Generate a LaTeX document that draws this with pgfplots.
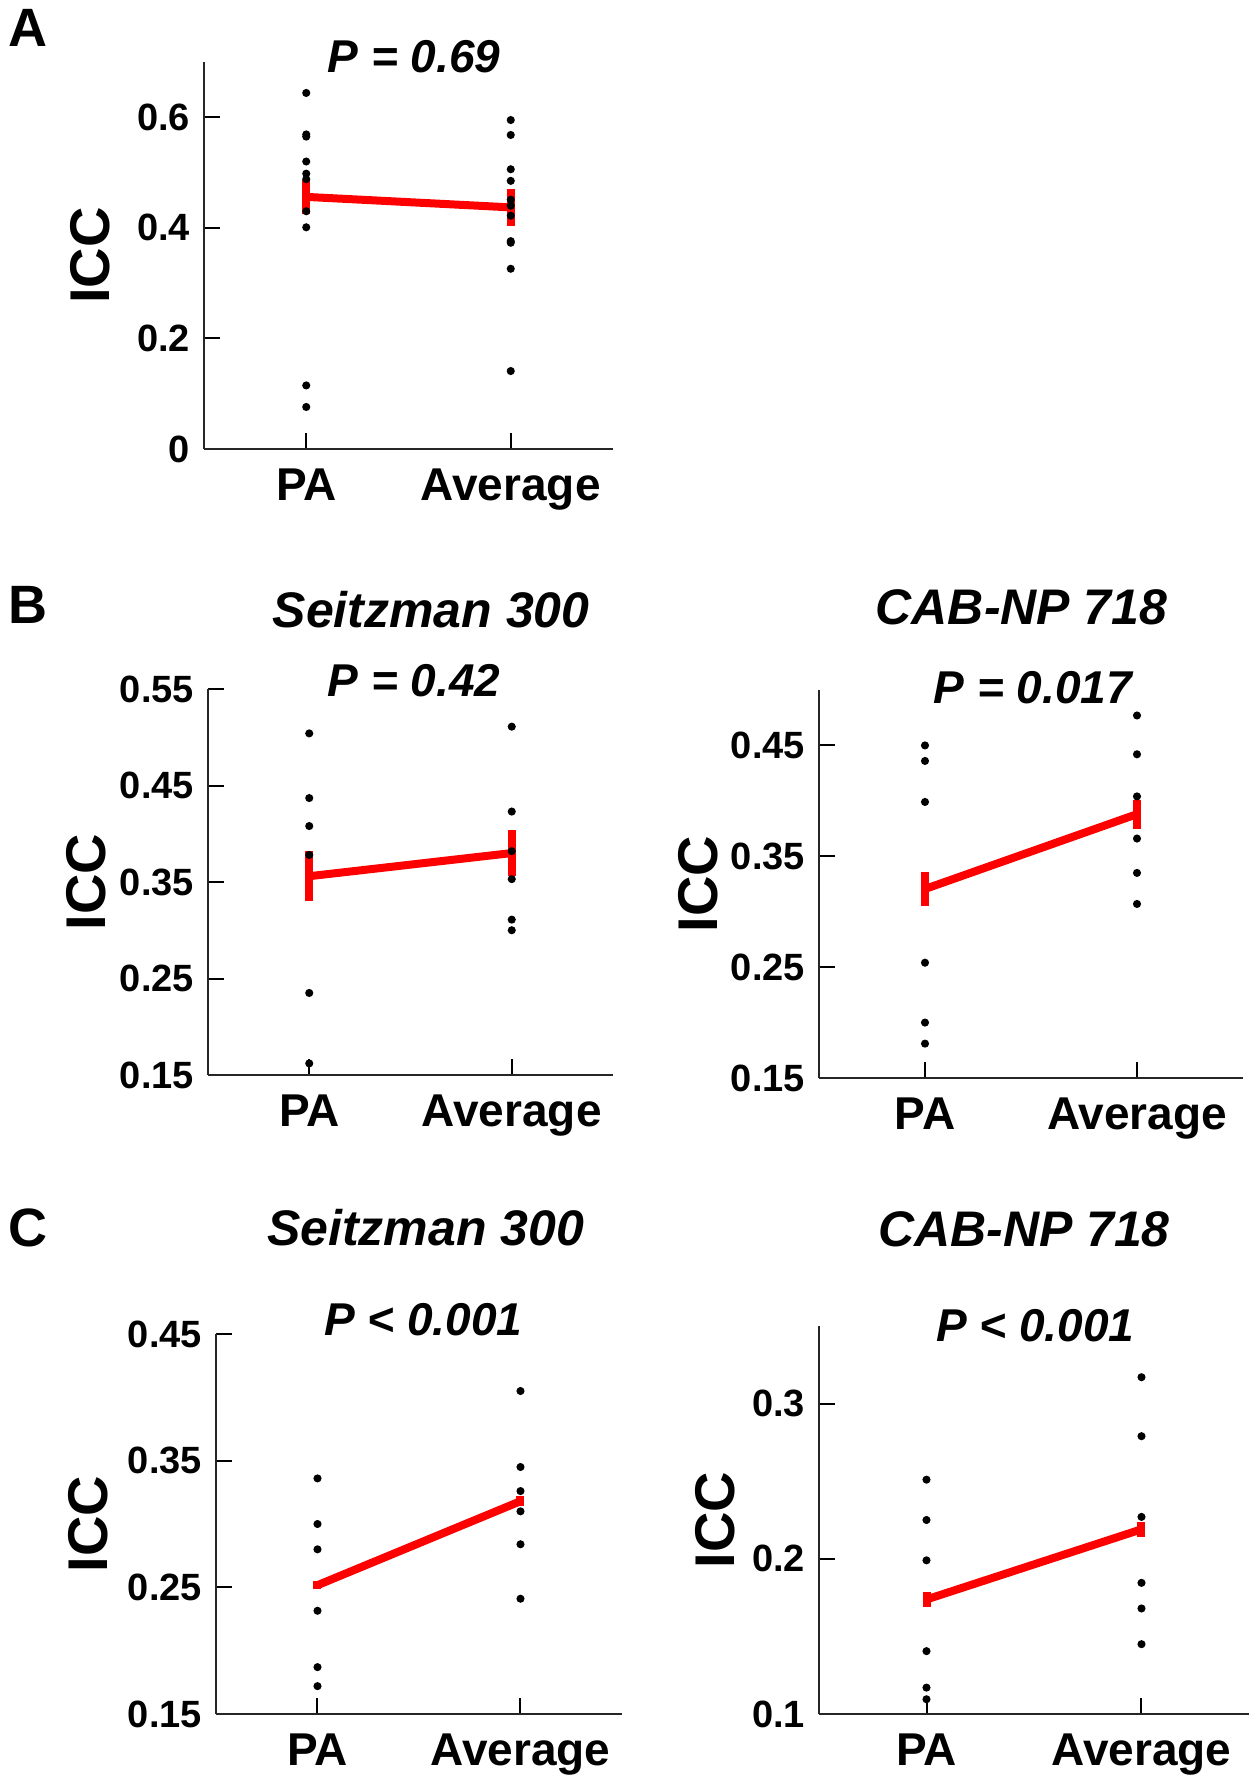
\documentclass[border=0pt]{standalone}
\usepackage{pgfplots}
\pgfplotsset{compat=1.18}
\usepackage{fontspec}
\setmainfont{Liberation Sans}
\pgfplotsset{
  myax/.style={
    scale only axis, anchor=south west, clip=false,
    axis lines=left, axis line style={-, line width=0.6pt, black!85},
    tick style={black, line width=0.5pt}, tick align=inside, major tick length=4pt,
    xmin=0.5, xmax=2.5, xtick={1,2}, xticklabels={PA,Average},
    x tick label style={font=\fontsize{11.5}{11.5}\selectfont\bfseries, yshift=-1.5pt},
    y tick label style={font=\fontsize{9.5}{9.5}\selectfont\bfseries, /pgf/number format/fixed, /pgf/number format/precision=2},
    /pgf/number format/assume math mode=true,
    ylabel={ICC}, ylabel style={font=\fontsize{14}{14}\selectfont\bfseries, anchor=center},
  },
  dots/.style={only marks, mark=*, mark size=0.8pt, black},
  meanline/.style={red, line width=2pt, mark=none,
    error bars/.cd, y dir=both, y explicit, error mark=none,
    error bar style={red, line width=2pt}},
}
\newcommand{\ttl}{\fontsize{12.5}{12.5}\selectfont\bfseries\itshape}
\newcommand{\pv}{\fontsize{11.5}{11.5}\selectfont\bfseries\itshape}
\begin{document}
\begin{tikzpicture}
\path[use as bounding box] (0,0) rectangle (315pt,445pt);
% Panel A
\begin{axis}[myax, at={(51pt,332.75pt)}, width=102.25pt, height=96.75pt,
  ymin=0, ymax=0.7, ytick={0,0.2,0.4,0.6},
  ylabel style={at={(axis description cs:-0.277,0.5)}}]
\addplot[dots] coordinates {(1,0.644)(1,0.569)(1,0.565)(1,0.520)(1,0.498)(1,0.488)(1,0.430)(1,0.401)(1,0.115)(1,0.076)};
\addplot[dots] coordinates {(2,0.595)(2,0.568)(2,0.506)(2,0.485)(2,0.451)(2,0.440)(2,0.422)(2,0.376)(2,0.373)(2,0.326)(2,0.141)};
\addplot[meanline] coordinates {(1,0.456) +- (0,0.031) (2,0.437) +- (0,0.034)};
\end{axis}
% Panel B left
\begin{axis}[myax, at={(52pt,176.25pt)}, width=101.25pt, height=96.5pt,
  ymin=0.15, ymax=0.55, ytick={0.15,0.25,0.35,0.45,0.55},
  ylabel style={at={(axis description cs:-0.30,0.5)}}]
\addplot[dots] coordinates {(1,0.504)(1,0.437)(1,0.408)(1,0.378)(1,0.235)(1,0.162)};
\addplot[dots] coordinates {(2,0.511)(2,0.423)(2,0.382)(2,0.353)(2,0.311)(2,0.300)};
\addplot[meanline] coordinates {(1,0.356) +- (0,0.026) (2,0.380) +- (0,0.024)};
\end{axis}
% Panel B right
\begin{axis}[myax, at={(204.75pt,175.5pt)}, width=106pt, height=97pt,
  ymin=0.15, ymax=0.5, ytick={0.15,0.25,0.35,0.45},
  ylabel style={at={(axis description cs:-0.285,0.5)}}]
\addplot[dots] coordinates {(1,0.450)(1,0.436)(1,0.399)(1,0.254)(1,0.200)(1,0.181)};
\addplot[dots] coordinates {(2,0.477)(2,0.442)(2,0.404)(2,0.366)(2,0.335)(2,0.307)};
\addplot[meanline] coordinates {(1,0.3205) +- (0,0.015) (2,0.388) +- (0,0.013)};
\end{axis}
% Panel C left
\begin{axis}[myax, at={(54pt,16.5pt)}, width=101.5pt, height=95pt,
  ymin=0.15, ymax=0.45, ytick={0.15,0.25,0.35,0.45},
  ylabel style={at={(axis description cs:-0.314,0.5)}}]
\addplot[dots] coordinates {(1,0.336)(1,0.300)(1,0.280)(1,0.2315)(1,0.187)(1,0.172)};
\addplot[dots] coordinates {(2,0.405)(2,0.345)(2,0.326)(2,0.310)(2,0.284)(2,0.241)};
\addplot[meanline] coordinates {(1,0.2517) +- (0,0.003) (2,0.318) +- (0,0.004)};
\end{axis}
% Panel C right
\begin{axis}[myax, at={(204.75pt,16.5pt)}, width=107.5pt, height=97pt,
  ymin=0.1, ymax=0.35, ytick={0.1,0.2,0.3},
  ylabel style={at={(axis description cs:-0.241,0.5)}}]
\addplot[dots] coordinates {(1,0.251)(1,0.225)(1,0.199)(1,0.1405)(1,0.117)(1,0.1095)};
\addplot[dots] coordinates {(2,0.317)(2,0.279)(2,0.227)(2,0.1845)(2,0.168)(2,0.145)};
\addplot[meanline] coordinates {(1,0.1738) +- (0,0.005) (2,0.219) +- (0,0.005)};
\end{axis}
% Texts
\node[font=\fontsize{13.5}{13.5}\selectfont\bfseries] at (7pt,438pt) {A};
\node[font=\fontsize{13.5}{13.5}\selectfont\bfseries] at (7pt,293.75pt) {B};
\node[font=\fontsize{13.5}{13.5}\selectfont\bfseries] at (7pt,138pt) {C};
\node[font=\pv] at (103.5pt,430.75pt) {P = 0.69};
\node[font=\ttl] at (107.8pt,292.6pt) {Seitzman 300};
\node[font=\pv] at (103.5pt,274.75pt) {P = 0.42};
\node[font=\ttl] at (255.4pt,293.2pt) {CAB-NP 718};
\node[font=\pv] at (258.2pt,273pt) {P = 0.017};
\node[font=\ttl] at (106.4pt,138pt) {Seitzman 300};
\node[font=\pv] at (105.8pt,115pt) {P < 0.001};
\node[font=\ttl] at (256pt,137.75pt) {CAB-NP 718};
\node[font=\pv] at (258.8pt,113.5pt) {P < 0.001};
\end{tikzpicture}
\end{document}
